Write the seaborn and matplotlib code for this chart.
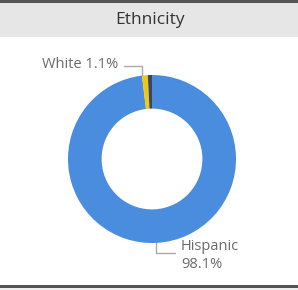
import numpy as np
import matplotlib
matplotlib.use('Agg')
import matplotlib.pyplot as plt
import seaborn as sns
from matplotlib.patches import Rectangle
from matplotlib.lines import Line2D

# データ
categories = ['Hispanic', 'White', 'Other']
shares = [98.1, 1.1, 0.8]
colors = ['#4A8CDD', '#F2C80F', '#3A4664']
title = 'Ethnicity'

sns.set_theme(style='white')
plt.rcParams['font.family'] = ['Open Sans', 'DejaVu Sans']

W, H = 298, 290
fig = plt.figure(figsize=(W / 100, H / 100), dpi=100)
fig.patch.set_facecolor('white')


def px(x, y):
    # ピクセル座標 -> figure座標
    return x / W, 1 - y / H


# 枠とタイトル帯
fig.add_artist(Rectangle(px(0, 37), 1, 34 / H, transform=fig.transFigure,
                         facecolor='#E6E6E6', edgecolor='none'))
fig.add_artist(Rectangle(px(0, 3), 1, 3 / H, transform=fig.transFigure,
                         facecolor='#555555', edgecolor='none'))
fig.add_artist(Rectangle(px(0, 288), 1, 3 / H, transform=fig.transFigure,
                         facecolor='#555555', edgecolor='none'))
fig.add_artist(Rectangle(px(0, 290), 1, 2 / H, transform=fig.transFigure,
                         facecolor='#EEEEEE', edgecolor='none'))
fig.text(*px(150, 20), title, ha='center', va='center', fontsize=12.5, color='#333333')

# ドーナツ
cx, cy, r = 152, 159, 84
ax = fig.add_axes([(cx - r) / W, (H - cy - r) / H, 2 * r / W, 2 * r / H])
wedges, _ = ax.pie(shares, colors=colors, startangle=90, counterclock=False,
                   wedgeprops=dict(width=0.4, edgecolor='none'))
ax.set_xlim(-1, 1)
ax.set_ylim(-1, 1)
ax.set_aspect('equal')
ax.axis('off')

# ラベル
lab_color = '#6A6A6A'
fig.text(*px(118, 65), f'{categories[1]} {shares[1]}%', ha='right', va='center',
         fontsize=10.5, color=lab_color)
fig.add_artist(Line2D([124 / W, 142 / W, 142 / W], [1 - 66 / H, 1 - 66 / H, 1 - 75 / H],
                      transform=fig.transFigure, color='#AAAAAA', lw=1))

fig.text(*px(181, 246), categories[0], ha='left', va='center', fontsize=10.5, color=lab_color)
fig.text(*px(181, 265), f'{shares[0]}%', ha='left', va='center', fontsize=10.5, color=lab_color)
fig.add_artist(Line2D([156 / W, 156 / W, 175 / W], [1 - 243 / H, 1 - 253 / H, 1 - 253 / H],
                      transform=fig.transFigure, color='#AAAAAA', lw=1))

fig.savefig('out.png', dpi=100, facecolor=fig.get_facecolor())
